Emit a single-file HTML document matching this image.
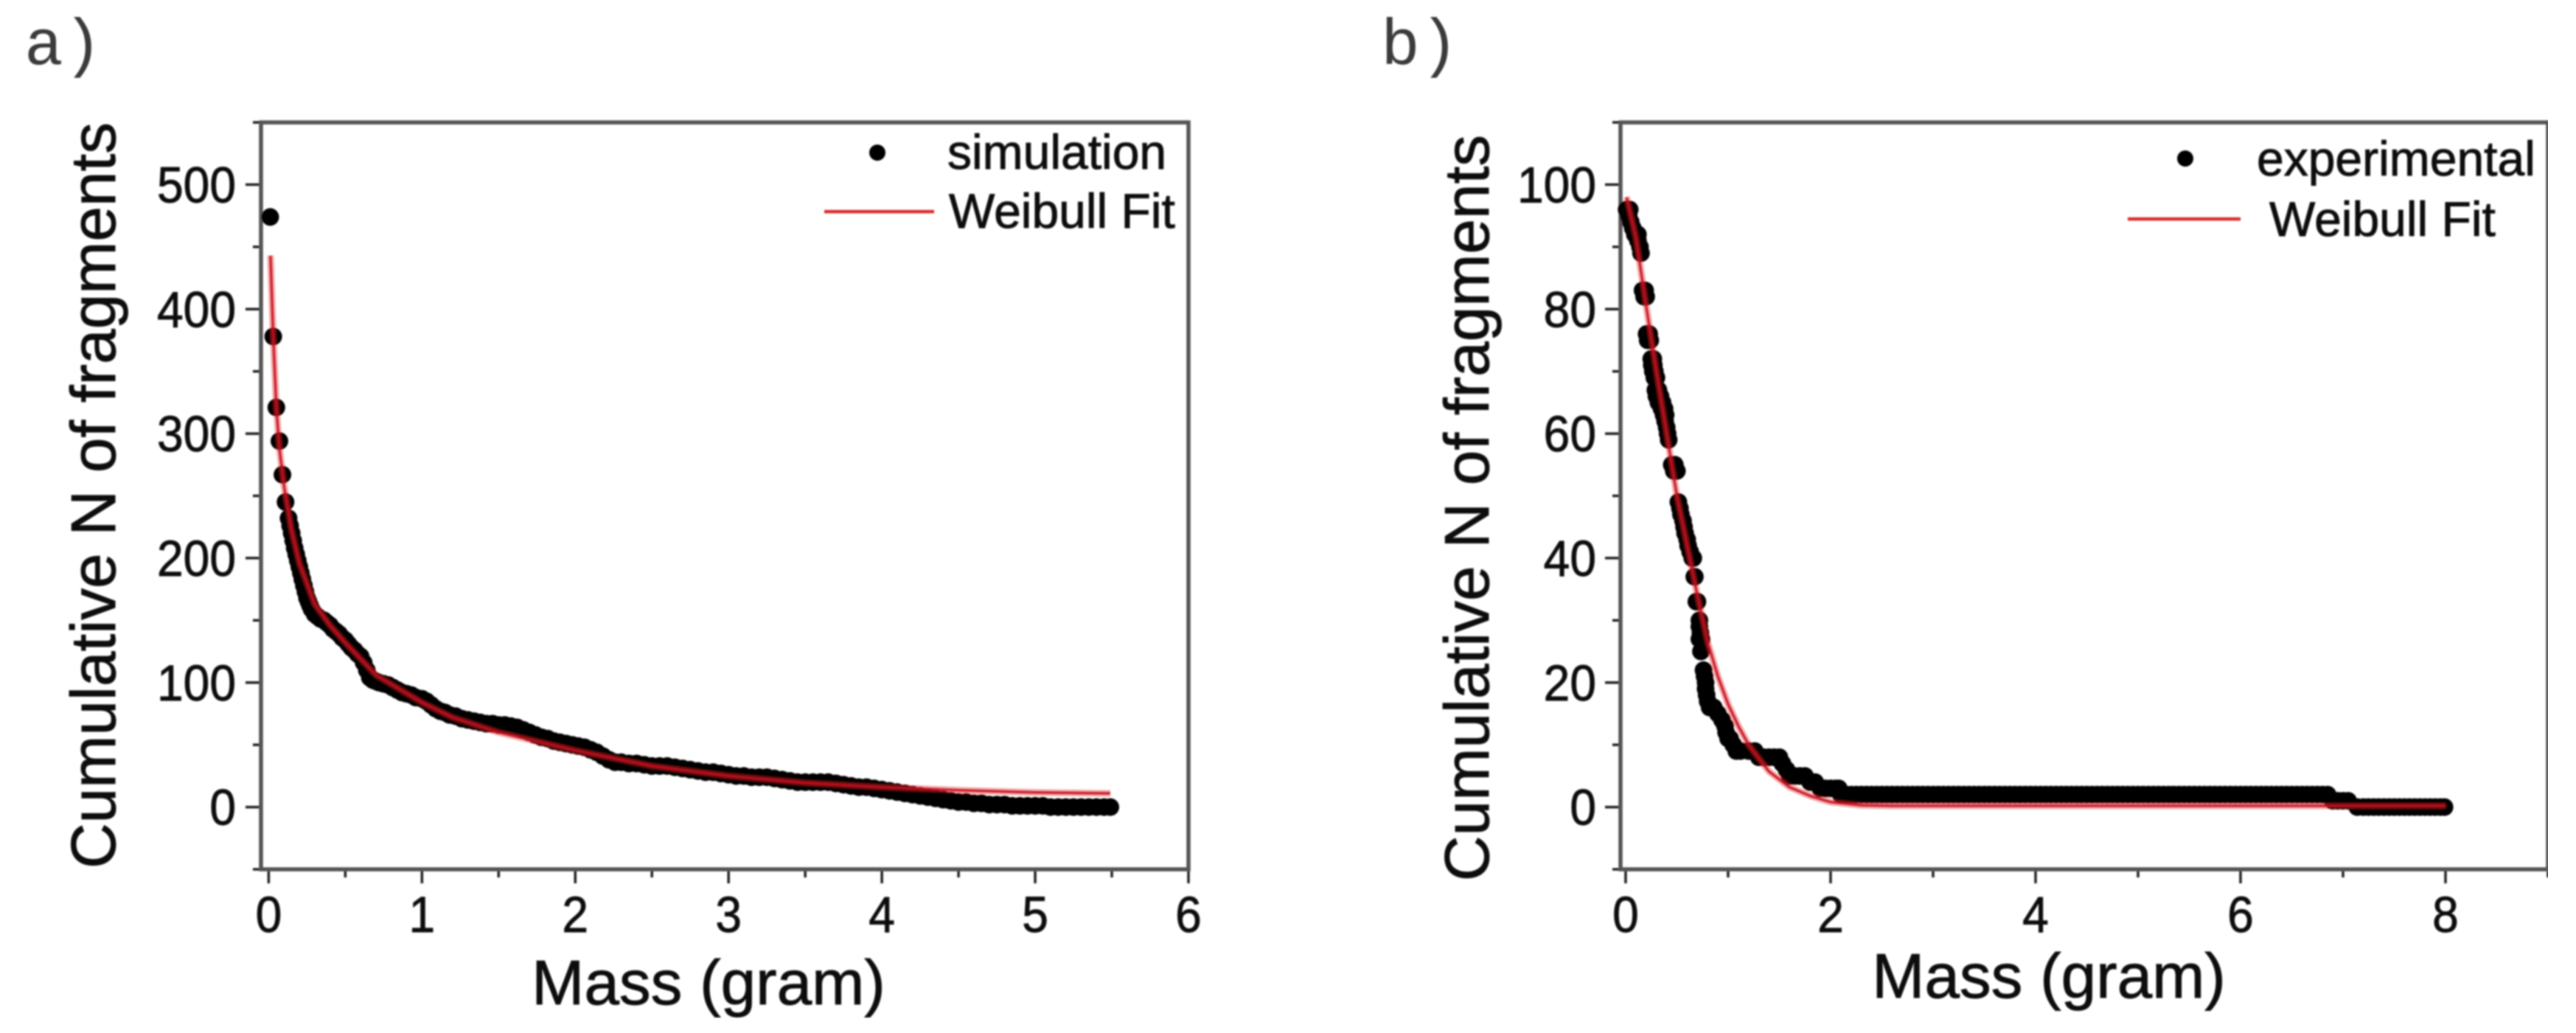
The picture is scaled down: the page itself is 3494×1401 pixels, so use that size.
<!DOCTYPE html>
<html lang="en">
<head>
<meta charset="utf-8">
<title>Cumulative fragment mass distributions</title>
<style>
html,body{margin:0;padding:0;background:#fff;width:3494px;height:1401px;overflow:hidden}
svg{display:block}
text{font-family:"Liberation Sans",Arial,sans-serif;fill:#0c0c0c;stroke:#0c0c0c;stroke-width:.9px}
.tick{font-size:69px}
.title{font-size:85.5px}
.legend{font-size:66px}
.panel{font-family:"Liberation Mono",monospace;font-size:88px;fill:#3a3a3a;stroke:none}
</style>
</head>
<body>
<svg id="figure" xmlns="http://www.w3.org/2000/svg" width="3494" height="1401" viewBox="0 0 3494 1401">
  <defs><filter id="soft" x="0" y="0" width="100%" height="100%"><feGaussianBlur stdDeviation="1.1"/></filter></defs>
  <rect x="0" y="0" width="3494" height="1401" fill="#fff"/>
  <g filter="url(#soft)">
    <g id="chart-a">
      <text class="panel" x="33" y="87">a)</text>
      <text class="title" text-anchor="middle" transform="translate(156 672) rotate(-90)">Cumulative N of fragments</text>
      <text class="title" text-anchor="middle" x="961" y="1362">Mass (gram)</text>
    </g>
    <g id="chart-b">
      <text class="panel" x="1873" y="87">b)</text>
      <text class="title" text-anchor="middle" transform="translate(2019 689) rotate(-90)">Cumulative N of fragments</text>
      <text class="title" text-anchor="middle" x="2779" y="1353">Mass (gram)</text>
    </g>
  </g>
</svg>
<script>
/* ---- panel a data ---- */
const simXTicks = [0, 1, 2, 3, 4, 5, 6];
const simXMinor = [0.5, 1.5, 2.5, 3.5, 4.5, 5.5];
const simYTicks = [0, 100, 200, 300, 400, 500];
const simYMinor = [-50, 50, 150, 250, 350, 450, 550];
const simMass = [
  0.01,0.03,0.05,0.07,0.09,0.11,0.13,0.14,0.15,0.16,
  0.17,0.18,0.19,0.2,0.21,0.22,0.23,0.24,0.25,0.26,
  0.27,0.28,0.3,0.32,0.34,0.36,0.38,0.4,0.42,0.44,
  0.46,0.48,0.5,0.52,0.54,0.56,0.58,0.6,0.62,0.64,
  0.66,0.68,0.7,0.72,0.75,0.78,0.81,0.84,0.87,0.9,
  0.93,0.96,1,1.03,1.06,1.09,1.12,1.15,1.18,1.22,
  1.26,1.3,1.34,1.38,1.42,1.46,1.5,1.54,1.58,1.62,
  1.66,1.7,1.74,1.78,1.82,1.86,1.9,1.94,1.98,2.02,
  2.06,2.1,2.14,2.18,2.22,2.26,2.3,2.35,2.4,2.45,
  2.5,2.55,2.6,2.65,2.7,2.75,2.8,2.85,2.9,2.95,
  3,3.05,3.1,3.15,3.2,3.25,3.3,3.35,3.4,3.45,
  3.5,3.55,3.6,3.65,3.7,3.75,3.8,3.85,3.9,3.95,
  4,4.05,4.1,4.15,4.2,4.25,4.3,4.35,4.4,4.45,
  4.5,4.55,4.6,4.65,4.7,4.75,4.8,4.85,4.9,4.95,
  5,5.05,5.1,5.15,5.2,5.25,5.3,5.35,5.4,5.45,
  5.49
];
const simCount = [
  474,378,321,294,267,245,232,226,220,214,
  208,203,198,193,188,183,178,173,168,165,
  162,159,155,153,151,150,148,146,143,141,
  139,136,134,131,128,126,123,121,116,110,
  104,102,101,100,99,98,96,94,92,91,
  90,88,87,85,82,79,77,76,74,73,
  71,70,69,68,67,67,66,66,65,64,
  62,60,58,56,55,53,52,51,50,49,
  48,46,44,41,38,36,36,35,35,34,
  33,33,33,32,31,30,29,28,28,27,
  26,25,25,24,24,24,23,22,21,20,
  20,20,20,20,19,18,17,16,16,15,
  14,13,12,11,10,9,8,7,6,5,
  4,4,3,3,2,2,2,1,1,1,
  1,1,0,0,0,0,0,0,0,0,
  0
];
const simFitMass = [0.012,0.03,0.05,0.07,0.1,0.15,0.2,0.3,0.4,0.5,0.7,1,1.2,1.5,2,2.5,3,3.5,4,4.5,5,5.49];
const simFitCount = [443,378,321,288,258,222,196,163,146,132,106,84,72,60,45.5,33,25,19.5,16,13.5,11.8,11];

/* ---- panel b data ---- */
const expXTicks = [0, 2, 4, 6, 8];
const expXMinor = [1, 3, 5, 7, 9];
const expYTicks = [0, 20, 40, 60, 80, 100];
const expYMinor = [-10, 10, 30, 50, 70, 90, 110];
const expMass = [
  0.01,0.04,0.03,0.05,0.07,0.09,0.12,0.12,0.14,0.15,
  0.165,0.19,0.18,0.2,0.205,0.23,0.215,0.24,0.25,0.27,
  0.255,0.275,0.265,0.285,0.28,0.3,0.29,0.32,0.3,0.34,
  0.32,0.36,0.35,0.38,0.37,0.39,0.385,0.4,0.41,0.42,
  0.45,0.48,0.47,0.5,0.515,0.53,0.54,0.56,0.57,0.58,
  0.6,0.61,0.63,0.65,0.66,0.67,0.675,0.69,0.7,0.72,
  0.72,0.73,0.72,0.74,0.735,0.76,0.77,0.78,0.78,0.79,
  0.8,0.82,0.86,0.9,0.94,0.97,0.98,1,1.02,1.05,
  1.08,1.12,1.2,1.26,1.3,1.35,1.4,1.45,1.5,1.53,
  1.57,1.6,1.65,1.7,1.75,1.8,1.85,1.9,1.95,2,
  2.05,2.08,2.1,2.15,2.2,2.25,2.3,2.35,2.4,2.45,
  2.5,2.55,2.6,2.65,2.7,2.75,2.8,2.85,2.9,2.95,
  3,3.05,3.1,3.15,3.2,3.25,3.3,3.35,3.4,3.45,
  3.5,3.55,3.6,3.65,3.7,3.75,3.8,3.85,3.9,3.95,
  4,4.05,4.1,4.15,4.2,4.25,4.3,4.35,4.4,4.45,
  4.5,4.55,4.6,4.65,4.7,4.75,4.8,4.85,4.9,4.95,
  5,5.05,5.1,5.15,5.2,5.25,5.3,5.35,5.4,5.45,
  5.5,5.55,5.6,5.65,5.7,5.75,5.8,5.85,5.9,5.95,
  6,6.05,6.1,6.15,6.2,6.25,6.3,6.35,6.4,6.45,
  6.5,6.55,6.6,6.65,6.7,6.75,6.8,6.85,6.9,6.95,
  7,7.05,7.14,7.2,7.25,7.3,7.35,7.4,7.45,7.5,
  7.55,7.6,7.65,7.7,7.75,7.8,7.85,7.9,7.95,7.99
];
const expCount = [
  96,96,95,94,93,92,92,91,90,89,
  83,83,82,82,76,76,75,75,72,72,
  71,71,70,70,69,69,67,67,66,66,
  65,65,64,64,63,63,62,61,60,59,
  55,55,54,54,49,48,47,46,45,44,
  43,42,41,40,40,37,37,33,33,30,
  29,28,27,27,25,22,21,20,19,18,
  17,16,16,15,14,13,12,11,11,10,
  9,9,9,9,8,8,8,8,8,7,
  6,5,5,5,5,4,4,3,3,3,
  3,3,2,2,2,2,2,2,2,2,
  2,2,2,2,2,2,2,2,2,2,
  2,2,2,2,2,2,2,2,2,2,
  2,2,2,2,2,2,2,2,2,2,
  2,2,2,2,2,2,2,2,2,2,
  2,2,2,2,2,2,2,2,2,2,
  2,2,2,2,2,2,2,2,2,2,
  2,2,2,2,2,2,2,2,2,2,
  2,2,2,2,2,2,2,2,2,2,
  2,2,2,2,2,2,2,2,1,1,
  1,1,0,0,0,0,0,0,0,0,
  0,0,0,0,0,0,0,0,0,0
];
const expFitMass = [0.01,0.1,0.2,0.3,0.4,0.5,0.6,0.7,0.8,0.9,1,1.1,1.2,1.3,1.4,1.6,1.8,2,2.3,2.6,8];
const expFitCount = [98,91.5,80.5,70,60,50,42,34,26.5,21,16.5,13,10,7.8,5.7,3.2,1.8,0.8,0.3,0.2,0.2];

const NS = 'http://www.w3.org/2000/svg';
function mk(tag, attrs, parent) {
  const el = document.createElementNS(NS, tag);
  for (const k in attrs) el.setAttribute(k, attrs[k]);
  parent.appendChild(el);
  return el;
}
function linear(d0, d1, r0, r1) {
  return function (v) { return r0 + (v - d0) * (r1 - r0) / (d1 - d0); };
}
function path(xs, ys, sx, sy) {
  return xs.map(function (x, i) {
    return (i ? 'L' : 'M') + sx(x).toFixed(1) + ' ' + sy(ys[i]).toFixed(1);
  }).join(' ');
}
function drawPanel(group, c) {
  const sx = linear(c.xDomain[0], c.xDomain[1], c.left, c.right);
  const sy = linear(c.yDomain[0], c.yDomain[1], c.bottom, c.top);

  c.xMinor.forEach(function (v) {
    const el = mk('line', {x1: sx(v), x2: sx(v), y1: c.bottom, y2: c.bottom + 11, stroke: '#222', 'stroke-width': 3.5}, group);
    
    
  });
  c.yMinor.forEach(function (v) {
    const el = mk('line', {x1: c.left - 11, x2: c.left, y1: sy(v), y2: sy(v), stroke: '#222', 'stroke-width': 3.5}, group);
    
    
  });
  c.xTicks.forEach(function (v) {
    const tick = mk('line', {x1: sx(v), x2: sx(v), y1: c.bottom, y2: c.bottom + 19, stroke: '#222', 'stroke-width': 3.5}, group);
    
    
    const label = mk('text', {transform: 'translate(' + sx(v) + ' 1264) scale(0.93 1)', 'text-anchor': 'middle', 'class': 'tick'}, group);
    label.textContent = String(v);
    
    
  });
  c.yTicks.forEach(function (v) {
    const tick = mk('line', {x1: c.left - 21, x2: c.left, y1: sy(v), y2: sy(v), stroke: '#222', 'stroke-width': 3.5}, group);
    
    
    const label = mk('text', {transform: 'translate(' + c.labelRight + ' ' + (sy(v) + 24) + ') scale(0.93 1)', 'text-anchor': 'end', 'class': 'tick'}, group);
    label.textContent = String(v);
    
    
  });

  const frame = mk('rect', {x: c.left, y: c.top, width: c.right - c.left, height: c.bottom - c.top, fill: 'none', stroke: '#555', 'stroke-width': 5.5}, group);
  
  

  c.mass.forEach(function (x, i) {
    const dot = mk('circle', {cx: sx(x).toFixed(1), cy: sy(c.count[i]).toFixed(1), r: 12, fill: '#000'}, group);
    
    
  });

  const halo = mk('path', {d: path(c.fitMass, c.fitCount, sx, sy), fill: 'none', stroke: '#e02828', 'stroke-opacity': 0.4, 'stroke-width': 9, 'stroke-linejoin': 'round'}, group);
  
  
  const fit = mk('path', {d: path(c.fitMass, c.fitCount, sx, sy), fill: 'none', stroke: '#c8101f', 'stroke-opacity': 0.85, 'stroke-width': 3.5, 'stroke-linejoin': 'round'}, group);
  
  

  const legendDot = mk('circle', {cx: c.legend.dotX, cy: c.legend.dotY, r: 11, fill: '#000'}, group);
  
  
  const legendLabel = mk('text', {x: c.legend.labelX, y: c.legend.labelY, 'class': 'legend'}, group);
  legendLabel.textContent = c.legend.label;
  
  
  const legendLine = mk('line', {x1: c.legend.lineX1, x2: c.legend.lineX2, y1: c.legend.lineY, y2: c.legend.lineY, stroke: '#dc2c2c', 'stroke-width': 4.5}, group);
  
  
  const legendFit = mk('text', {x: c.legend.fitX, y: c.legend.fitY, 'class': 'legend'}, group);
  legendFit.textContent = 'Weibull Fit';
  
  
}

drawPanel(document.getElementById('chart-a'), {
  left: 354, right: 1612, top: 166, bottom: 1179, labelRight: 320,
  xDomain: [-0.05, 6], yDomain: [-50, 550],
  xTicks: simXTicks, xMinor: simXMinor, yTicks: simYTicks, yMinor: simYMinor,
  mass: simMass, count: simCount, fitMass: simFitMass, fitCount: simFitCount,
  legend: {dotX: 1190, dotY: 207, label: 'simulation', labelX: 1285, labelY: 229,
           lineX1: 1118, lineX2: 1267, lineY: 287, fitX: 1287, fitY: 309}
});
drawPanel(document.getElementById('chart-b'), {
  left: 2198, right: 3456, top: 166, bottom: 1179, labelRight: 2165,
  xDomain: [-0.05, 9], yDomain: [-10, 110],
  xTicks: expXTicks, xMinor: expXMinor, yTicks: expYTicks, yMinor: expYMinor,
  mass: expMass, count: expCount, fitMass: expFitMass, fitCount: expFitCount,
  legend: {dotX: 2964, dotY: 215, label: 'experimental', labelX: 3061, labelY: 238,
           lineX1: 2886, lineX2: 3039, lineY: 297, fitX: 3078, fitY: 320}
});
</script>
</body>
</html>
